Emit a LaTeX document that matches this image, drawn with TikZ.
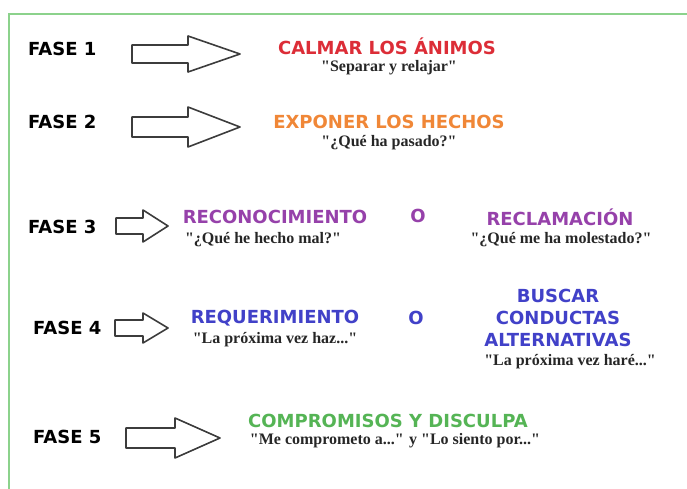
\documentclass[tikz,border=0pt]{standalone}
\usepackage{fontspec}
\setmainfont{Liberation Serif}
\newfontfamily\headfont{DejaVu Sans}
\usepackage{tikz}
\usetikzlibrary{positioning, calc}
\definecolor{frameGreen}{RGB}{140, 210, 140}
\definecolor{calmRed}{RGB}{220, 45, 55}
\definecolor{factOrange}{RGB}{240, 135, 55}
\definecolor{recPurple}{RGB}{150, 65, 170}
\definecolor{reqBlue}{RGB}{65, 65, 200}
\definecolor{pactGreen}{RGB}{85, 180, 85}
\definecolor{arrowGray}{RGB}{60, 60, 60}
\newcommand{\dq}{\textquotedbl}
\tikzset{
    faselabel/.style={font=\headfont\bfseries\fontsize{18}{20}\selectfont, text=black, inner sep=0pt},
    heading/.style={font=\headfont\bfseries\fontsize{18}{22}\selectfont, inner sep=0pt, align=center},
    quote/.style={font=\bfseries\fontsize{16}{18}\selectfont, text=black!85, inner sep=0pt},
    blockarrow/.style={draw=arrowGray, line width=1.6pt, line join=round, fill=white}
}
\begin{document}
\begin{tikzpicture}[x=1pt, y=-1pt]
    \useasboundingbox (0,0) rectangle (687,489);
    % Frame (only top and left edges in view)
    \draw[frameGreen, line width=1.6pt] (9,489) -- (9,14) -- (687,14);
    % Hollow block arrows: tail/neck/tip x, centre y, half body, half head
    \foreach \tx/\nx/\px/\cy/\hb/\hh in {
        132/188/240/54/9/18,
        132/188/240/127/10/20,
        116/143/168/226/8/16,
        115/143/168/328/8/15,
        126/175/220/438/10/20
    } {
        \draw[blockarrow] (\tx,\cy-\hb) -- (\nx,\cy-\hb) -- (\nx,\cy-\hh)
            -- (\px,\cy) -- (\nx,\cy+\hh) -- (\nx,\cy+\hb) -- (\tx,\cy+\hb) -- cycle;
    }
    % Phase labels
    \node[faselabel, anchor=west] (f1) at (28,49) {FASE 1};
    \node[faselabel, anchor=west] (f2) at (28,122) {FASE 2};
    \node[faselabel, anchor=west] (f3) at (28,227) {FASE 3};
    \node[faselabel, anchor=west] (f4) at (33,328) {FASE 4};
    \node[faselabel, anchor=west] (f5) at (33,437) {FASE 5};
    % Phase 1
    \node[heading, text=calmRed] (calm) at (387,46) {CALMAR LOS ÁNIMOS};
    \node[quote] (calmq) at (389,68) {\dq Separar y relajar\dq};
    % Phase 2
    \node[heading, text=factOrange] (facts) at (389,122) {EXPONER LOS HECHOS};
    \node[quote] (factsq) at (389,143) {\dq¿Qué ha pasado?\dq};
    % Phase 3
    \node[heading, text=recPurple] (recon) at (275,217) {RECONOCIMIENTO};
    \node[quote] (reconq) at (263,240) {\dq¿Qué he hecho mal?\dq};
    \node[heading, text=recPurple] (or3) at (418,216) {O};
    \node[heading, text=recPurple] (claim) at (560,217) {RECLAMACIÓN};
    \node[quote] (claimq) at (561,240) {\dq¿Qué me ha molestado?\dq};
    % Phase 4
    \node[heading, text=reqBlue] (req) at (275,318) {REQUERIMIENTO};
    \node[quote] (reqq) at (275,340) {\dq La próxima vez haz...\dq};
    \node[heading, text=reqBlue] (or4) at (416,318) {O};
    \node[heading, text=reqBlue] (alt) at (558,318) {BUSCAR\\CONDUCTAS\\ALTERNATIVAS};
    \node[quote] (altq) at (570,362) {\dq La próxima vez haré...\dq};
    % Phase 5
    \node[heading, text=pactGreen] (pact) at (388,421) {COMPROMISOS Y DISCULPA};
    \node[quote] (pactq) at (395,441) {\dq Me comprometo a...\dq{} y \dq Lo siento por...\dq};
\end{tikzpicture}
\end{document}
